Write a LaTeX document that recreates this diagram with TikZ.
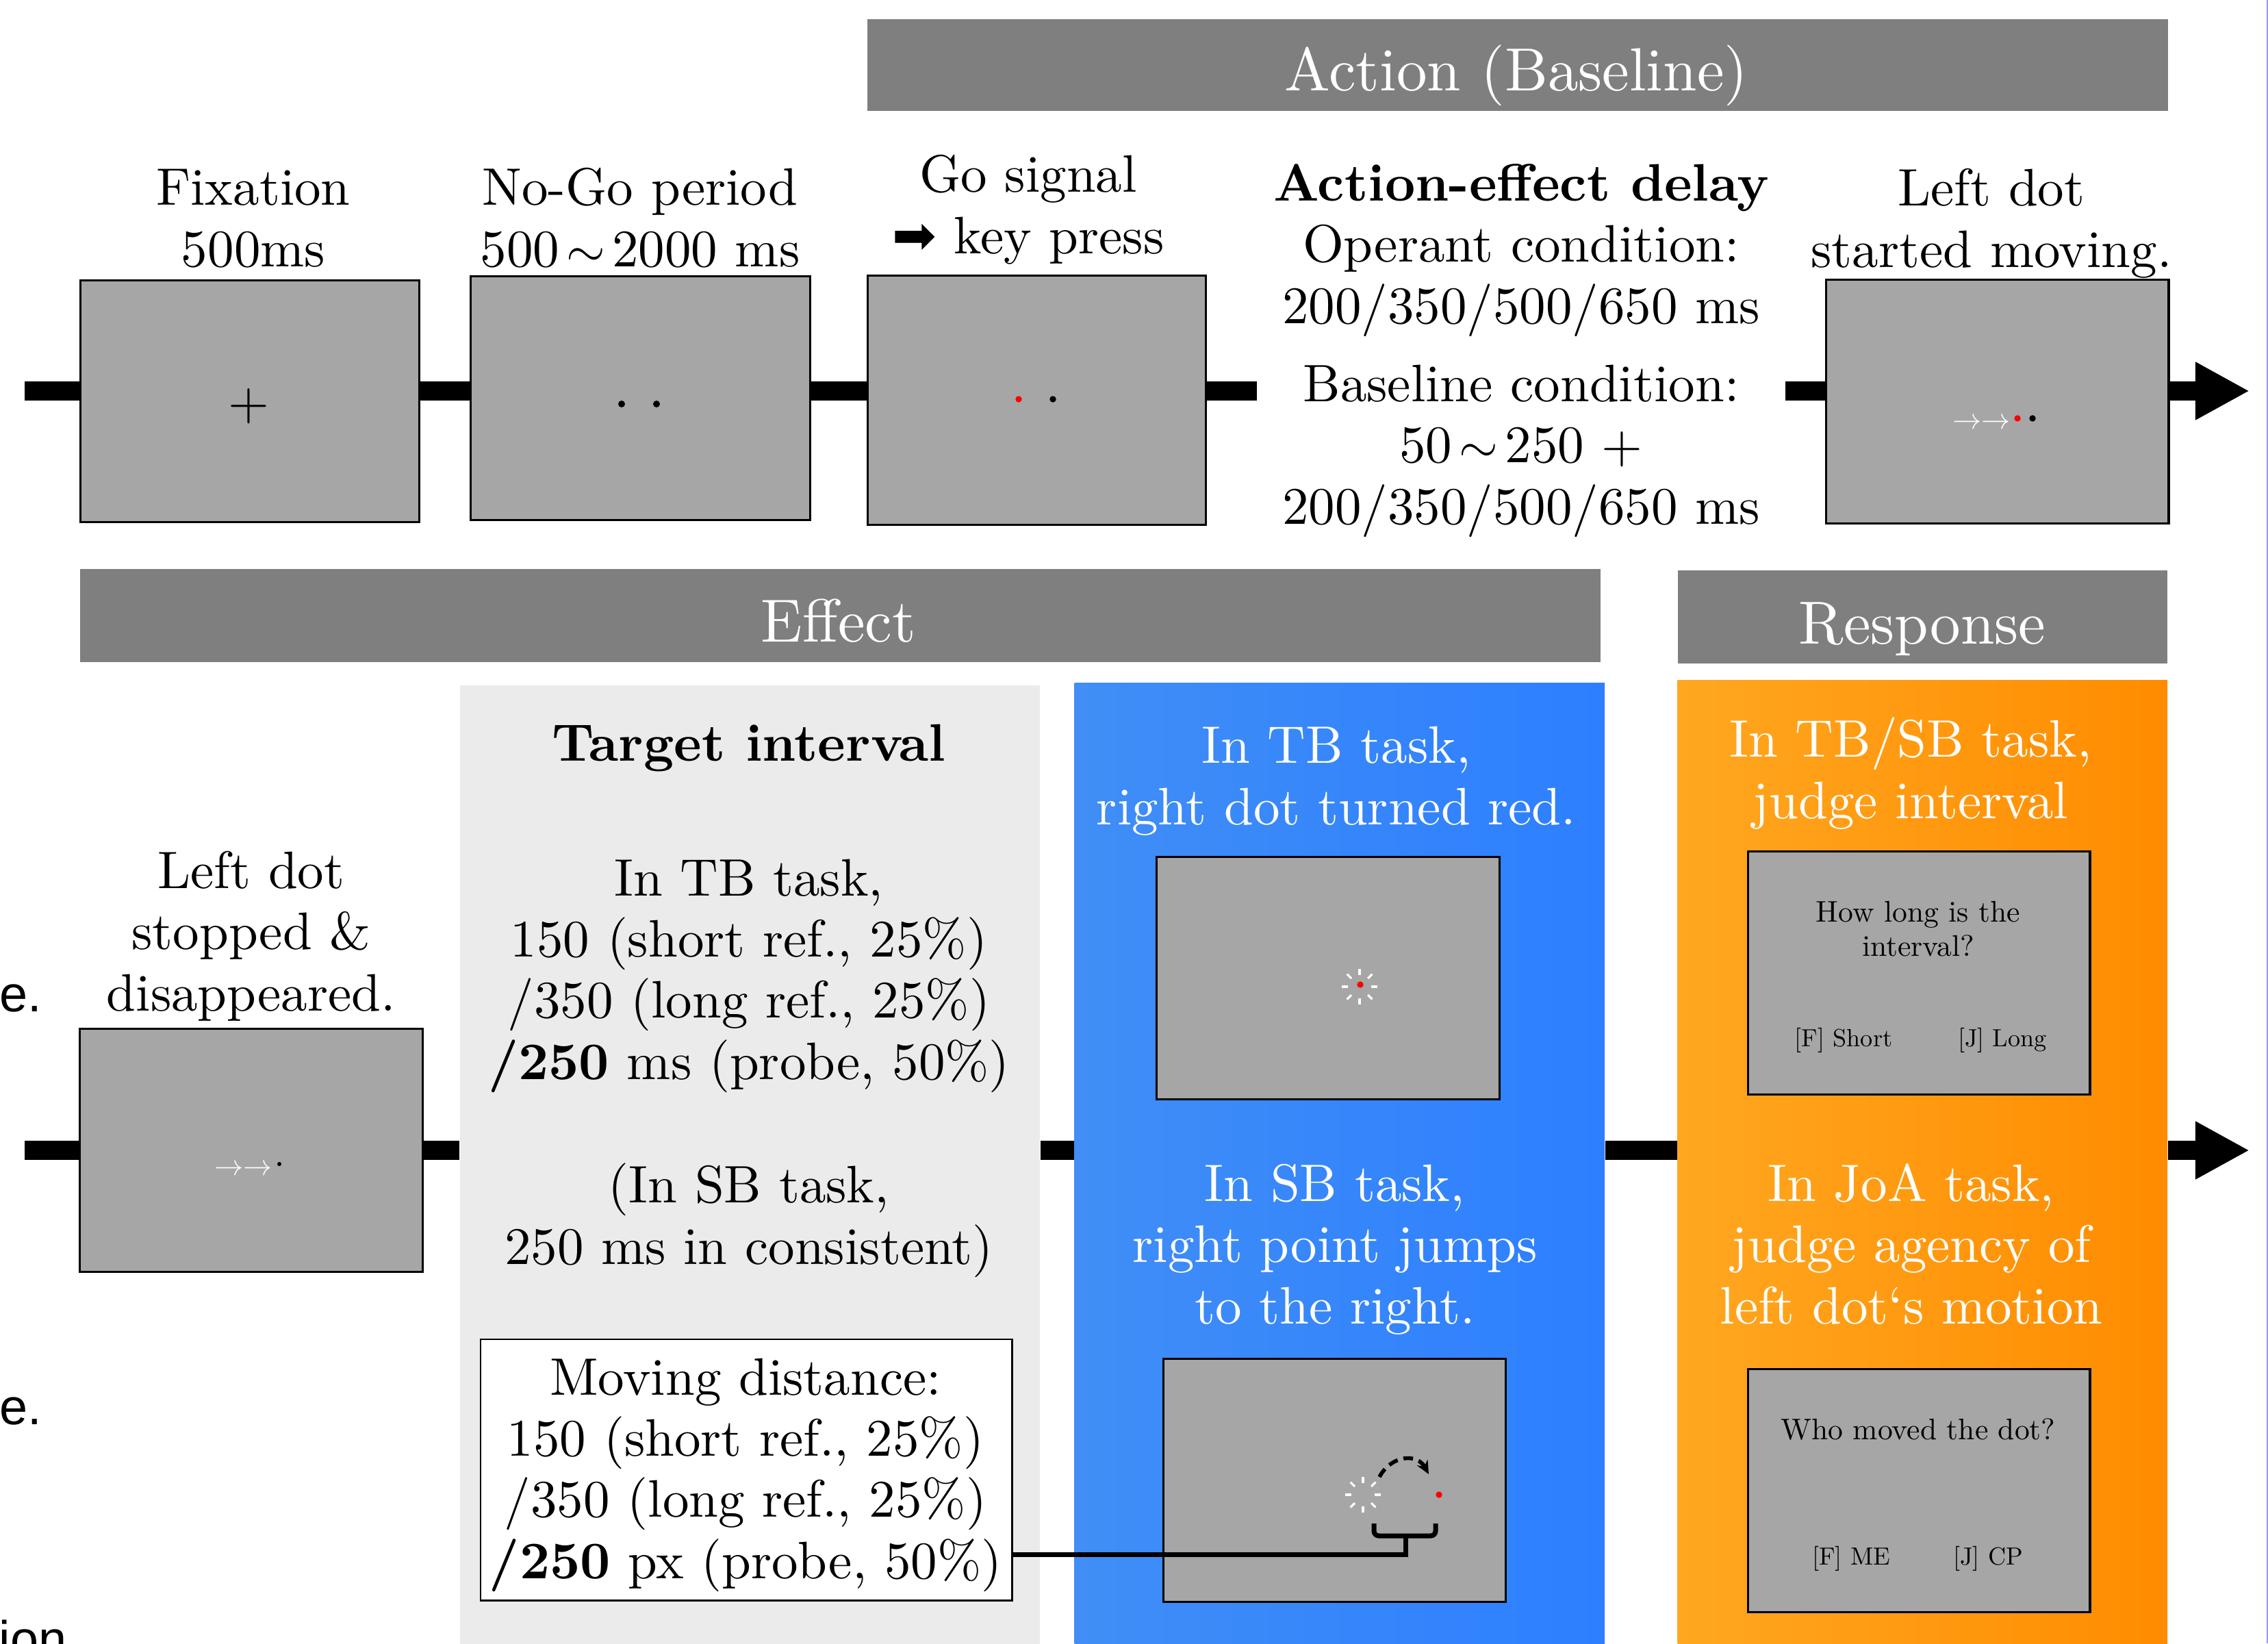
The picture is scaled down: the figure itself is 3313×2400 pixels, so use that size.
\documentclass[tikz,border=0pt]{standalone}
\usepackage{fontspec}
\setmainfont{lmroman10-regular.otf}[BoldFont=lmroman10-bold.otf]
\newfontfamily\djv{DejaVu Sans}
\newfontfamily\lsans{Liberation Sans}
\usetikzlibrary{arrows.meta}
\definecolor{hdrgray}{RGB}{127,127,127}
\definecolor{scrgray}{RGB}{166,166,166}
\definecolor{pangray}{RGB}{235,235,235}
\definecolor{blueL}{RGB}{64,142,246}
\definecolor{blueR}{RGB}{45,127,255}
\definecolor{orgL}{RGB}{255,167,32}
\definecolor{orgR}{RGB}{255,140,0}
\definecolor{edgeblue}{RGB}{150,150,255}
\newcommand\mystarburst[2]{%
  \foreach \ang in {0,45,...,315}{\draw[white,line width=0.9pt] (#1,#2) ++(\ang:17) -- ++(\ang:9);}}
\newcommand\mywave{\makebox[1em]{$\sim$}}
\tikzset{
  body/.style={font=\fontsize{21.9}{25.4}\selectfont, inner sep=0pt, align=center},
  bodyw/.style={body, text=white},
  hdrtext/.style={font=\fontsize{25.3}{29}\selectfont, text=white, inner sep=0pt},
  small/.style={font=\fontsize{12.4}{14.2}\selectfont, inner sep=0pt, align=center},
  tiny/.style={font=\fontsize{10.3}{12}\selectfont, inner sep=0pt},
  screen/.style={draw=black, line width=0.9pt, fill=scrgray, anchor=north west, inner sep=0pt},
  hdrbox/.style={fill=hdrgray, anchor=north west, inner sep=0pt},
  panel/.style={anchor=north west, inner sep=0pt, minimum height=14.2cm},
  bar/.style={line width=7.7pt},
  tipbar/.style={line width=7.7pt, -{Triangle[length=22.5pt,width=22.5pt]}},
  edgetext/.style={font=\lsans\fontsize{21}{24}\selectfont, inner sep=0pt, anchor=base west},
  warr/.style={font=\fontsize{12}{12}\selectfont, text=white, inner sep=0pt, anchor=base west},
}
\begin{document}
\begin{tikzpicture}[x=0.01cm,y=-0.01cm]
\useasboundingbox (0,0) rectangle (3313,2400);
\clip (0,0) rectangle (3313,2400);

% ---------- headers ----------
\node[hdrbox, minimum width=18.99cm, minimum height=1.34cm] (hact) at (1266,27) {};
\node[hdrtext, anchor=base] (tact) at (2215,133) {Action (Baseline)};
\node[hdrbox, minimum width=22.20cm, minimum height=1.36cm] (heff) at (116,830) {};
\node[hdrtext, anchor=base] (teff) at (1225,937) {Effect};
\node[hdrbox, minimum width=7.15cm, minimum height=1.36cm] (hres) at (2450,832) {};
\node[hdrtext, anchor=base] (tres) at (2808,940) {Response};

% ---------- panels ----------
\node[panel, minimum width=8.47cm, fill=pangray] (gpan) at (671,1000) {};
\node[panel, minimum width=7.74cm, left color=blueL, right color=blueR] (bpan) at (1569,997) {};
\node[panel, minimum width=7.15cm, left color=orgL, right color=orgR] (opan) at (2450,993) {};

% ---------- top row screens ----------
\node[screen, minimum width=4.95cm, minimum height=3.53cm] (fix) at (116,408) {};
\node[screen, minimum width=4.96cm, minimum height=3.56cm] (nogo) at (686,402) {};
\node[screen, minimum width=4.94cm, minimum height=3.64cm] (go) at (1266,401) {};
\node[screen, minimum width=5.00cm, minimum height=3.56cm] (lmove) at (2666,407) {};

% ---------- lower screens ----------
\node[screen, minimum width=5.01cm, minimum height=3.55cm] (ldis) at (115,1501) {};
\node[screen, minimum width=5.01cm, minimum height=3.54cm] (bs1) at (1688,1250) {};
\node[screen, minimum width=5.00cm, minimum height=3.55cm] (bs2) at (1698,1983) {};
\node[screen, minimum width=4.99cm, minimum height=3.55cm] (os1) at (2552,1242) {};
\node[screen, minimum width=4.99cm, minimum height=3.55cm] (os2) at (2552,1998) {};
\node[draw=black, line width=0.7pt, fill=white, anchor=north west, inner sep=0pt,
      minimum width=7.76cm, minimum height=3.81cm] (mov) at (701,1955) {};

% ---------- timelines ----------
\coordinate (ts) at (36,571);
\coordinate (tg1) at (1836,571);
\coordinate (tg2) at (2608,571);
\coordinate (tt) at (3286,571);
\draw[bar] (ts) -- (fix.west |- ts);
\draw[bar] (fix.east |- ts) -- (nogo.west |- ts);
\draw[bar] (nogo.east |- ts) -- (go.west |- ts);
\draw[bar] (go.east |- ts) -- (tg1);
\draw[bar] (tg2) -- (lmove.west |- ts);
\draw[tipbar] (lmove.east |- ts) -- (tt);

\coordinate (ls) at (36,1680);
\coordinate (lt) at (3286,1680);
\draw[bar] (ls) -- (ldis.west |- ls);
\draw[bar] (ldis.east |- ls) -- (gpan.west |- ls);
\draw[bar] (gpan.east |- ls) -- (bpan.west |- ls);
\draw[bar] (bpan.east |- ls) -- (opan.west |- ls);
\draw[tipbar] (opan.east |- ls) -- (lt);

% ---------- top texts (anchor = baseline of last line) ----------
\node[body, anchor=base] (tfix) at (370,389) {Fixation\\500ms};
\node[body, anchor=base] (tnogo) at (935,389) {No-Go period\\500\mywave2000 ms};
\node[body, anchor=base] (tgo) at (1502,370) {Go signal\\{\djv ➡} key press};
\node[body, anchor=base] (tdel1) at (2222,472) {\textbf{Action-effect delay}\\Operant condition:\\200/350/500/650 ms};
\node[body, anchor=base] (tdel2) at (2222,765) {Baseline condition:\\50\mywave250 +\\200/350/500/650 ms};
\node[body, anchor=base] (tlm) at (2909,390) {Left dot\\started moving.};

% ---------- top screen contents ----------
\node[body] (plus) at (363,593) {+};
\fill (908,590) circle (5);
\fill (959,590) circle (5);
\fill[red] (1488,583) circle (4.7);
\fill (1538,583) circle (4.7);
\node[warr] (wa1) at (2852,626) {$\rightarrow\rightarrow$};
\fill[red] (2947,611) circle (4.7);
\fill (2969,611) circle (4.7);

% ---------- lower left ----------
\node[body, anchor=base] (tld) at (367,1476) {Left dot\\stopped \&\\disappeared.};
\node[warr] (wa2) at (313,1716) {$\rightarrow\rightarrow$};
\fill (408,1700) circle (3);

% ---------- gray panel texts ----------
\node[body, anchor=base] (tti) at (1094,1111) {\textbf{Target interval}};
\node[body, anchor=base] (ttb) at (1094,1576) {In TB task,\\150 (short ref., 25\%)\\/350 (long ref., 25\%)\\\textbf{/250} ms (probe, 50\%)};
\node[body, anchor=base] (tsb) at (1094,1846) {(In SB task,\\250 ms in consistent)};
\node[body, anchor=base] (tmov) at (1089,2305) {Moving distance:\\150 (short ref., 25\%)\\/350 (long ref., 25\%)\\\textbf{/250} px (probe, 50\%)};

% ---------- blue panel ----------
\node[bodyw, anchor=base] (tb1) at (1952,1204) {In TB task,\\right dot turned red.};
\node[bodyw, anchor=base] (tb2) at (1950,1933) {In SB task,\\right point jumps\\to the right.};
\mystarburst{1986}{1441}
\fill[red] (1987,1438) circle (4.7);
\mystarburst{1991}{2183}
\fill[red] (2102,2183) circle (4.7);
\draw[line width=1.6pt, dash pattern=on 4pt off 2.5pt, -{Stealth[length=5.5pt,width=5pt]}]
  (2015,2157) .. controls (2032,2125) and (2070,2122) .. (2087,2153);
\draw[line width=2pt, rounded corners=2pt] (2007,2225) -- (2007,2243) -- (2097,2243) -- (2097,2225);
\coordinate (brk) at (2053,2270);
\coordinate (bstem) at (2053,2243);
\draw[line width=2pt] (mov.east |- brk) -- (brk) -- (bstem);

% ---------- orange panel ----------
\node[bodyw, anchor=base] (to1) at (2791,1195) {In TB/SB task,\\judge interval};
\node[bodyw, anchor=base] (to2) at (2792,1933) {In JoA task,\\judge agency of\\left dot`s motion};
\node[small, anchor=base] (q1) at (2802,1396) {How long is the\\interval?};
\node[tiny, anchor=base] (f1) at (2693,1528) {[F] Short};
\node[tiny, anchor=base] (j1) at (2925,1528) {[J] Long};
\node[small, anchor=base] (q2) at (2802,2102) {Who moved the dot?};
\node[tiny, anchor=base] (f2) at (2704,2285) {[F] ME};
\node[tiny, anchor=base] (j2) at (2904,2285) {[J] CP};

% ---------- cut-off texts at left edge ----------
\node[edgetext] (e1) at (-1,1477) {e.};
\node[edgetext] (e2) at (-1,2080) {e.};
\node[edgetext] (e3) at (-2,2419) {ion};

% ---------- right edge line ----------
\draw[edgeblue, line width=0.6pt] (3311.5,0) -- (3311.5,2400);
\end{tikzpicture}
\end{document}
